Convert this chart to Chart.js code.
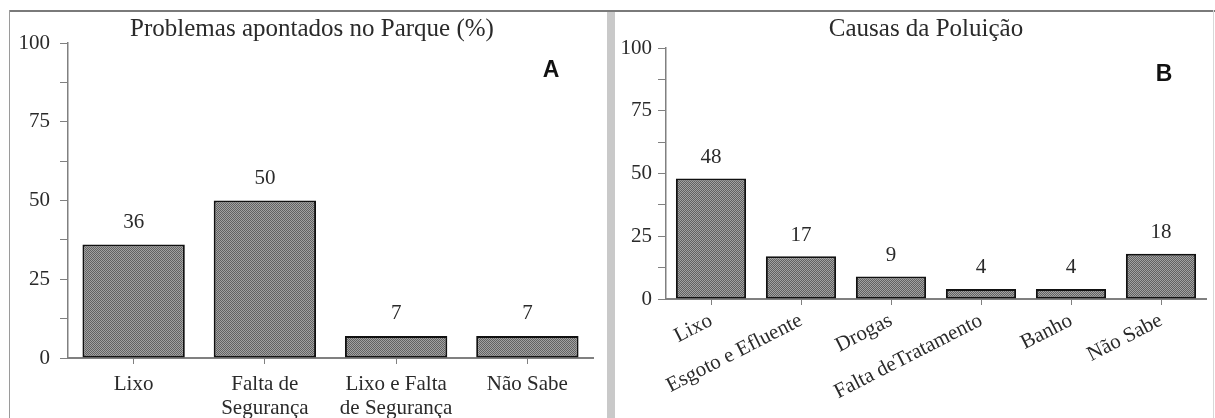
<!DOCTYPE html>
<html>
<head>
<meta charset="utf-8">
<script src="https://cdn.jsdelivr.net/npm/chart.js@4/dist/chart.umd.min.js"></script>
<style>
  html,body{margin:0;padding:0;background:#fff;}
  body{width:1215px;height:418px;position:relative;overflow:hidden;}
  .ln{position:absolute;}
  canvas{position:absolute;}
</style>
</head>
<body>
<div class="ln" style="left:9px;top:10px;width:1206px;height:2px;background:#7a7a7a"></div>
<div class="ln" style="left:9px;top:10px;width:1px;height:408px;background:#9a9a9a"></div>
<div class="ln" style="left:607px;top:12px;width:8px;height:406px;background:#c9c9c9"></div>
<div class="ln" style="left:1213px;top:10px;width:1px;height:408px;background:#d8d8d8"></div>
<canvas id="cA" style="left:10px;top:12px" width="597" height="406"></canvas>
<canvas id="cB" style="left:615px;top:12px" width="600" height="406"></canvas>
<script>
// ---- Data ----
const titleA = "Problemas apontados no Parque (%)";
const categoriesA = [["Lixo"], ["Falta de", "Segurança"], ["Lixo e Falta", "de Segurança"], ["Não Sabe"]];
const valuesA = [36, 50, 7, 7];

const titleB = "Causas da Poluição";
const categoriesB = ["Lixo", "Esgoto e Efluente", "Drogas", "Falta deTratamento", "Banho", "Não Sabe"];
const valuesB = [48, 17, 9, 4, 4, 18];

const yMin = 0, yMax = 100, yMajor = 25, yMinor = 12.5;

// ---- Styles ----
const SERIF = "'Liberation Serif', 'Times New Roman', serif";
const SANS = "'Liberation Sans', Arial, sans-serif";
const TXT = "#2a2a2a";
const AXIS = "#808080";

function makePattern() {
  const p = document.createElement('canvas');
  p.width = 2; p.height = 2;
  const g = p.getContext('2d');
  g.fillStyle = '#a2a2a2'; g.fillRect(0, 0, 2, 2);
  g.fillStyle = '#626262'; g.fillRect(0, 0, 1, 1); g.fillRect(1, 1, 1, 1);
  return g.createPattern(p, 'repeat');
}

const decorPlugin = {
  id: 'decor',
  afterDatasetsDraw(chart, args, opts) {
    const ctx = chart.ctx;
    ctx.save();
    // value labels
    ctx.font = '21px ' + SERIF;
    ctx.fillStyle = TXT;
    ctx.textAlign = 'center';
    ctx.textBaseline = 'middle';
    const meta = chart.getDatasetMeta(0);
    const data = chart.data.datasets[0].data;
    meta.data.forEach((bar, i) => {
      ctx.fillText(String(data[i]), bar.x, bar.y - opts.labelGap);
    });
    // title
    ctx.font = '25px ' + SERIF;
    ctx.fillText(opts.title, opts.titleX, opts.titleY);
    // panel letter
    ctx.font = 'bold 23px ' + SANS;
    ctx.fillStyle = '#111';
    ctx.fillText(opts.letter, opts.letterX, opts.letterY);
    ctx.restore();
  }
};

function buildChart(id, labels, values, cfg) {
  return new Chart(document.getElementById(id), {
    type: 'bar',
    data: {
      labels: labels,
      datasets: [{
        data: values,
        backgroundColor: makePattern(),
        borderColor: '#111',
        borderWidth: 2,
        borderSkipped: false,
        barPercentage: 0.78,
        categoryPercentage: 1.0
      }]
    },
    options: {
      responsive: false,
      animation: false,
      devicePixelRatio: 1,
      layout: { padding: { top: cfg.top, right: cfg.right, left: 0, bottom: 0 } },
      plugins: {
        legend: { display: false },
        title: { display: false },
        tooltip: { enabled: false },
        decor: cfg.decor
      },
      scales: {
        x: {
          type: 'category',
          offset: true,
          grid: { display: true, drawOnChartArea: false, drawTicks: true, offset: false, tickLength: 6, tickColor: AXIS, color: AXIS },
          border: { display: true, color: AXIS, width: 2 },
          ticks: {
            autoSkip: false,
            minRotation: cfg.rot, maxRotation: cfg.rot,
            padding: cfg.xPad,
            color: TXT,
            font: { family: SERIF, size: 21, lineHeight: 1.12 }
          },
          afterFit(s) { s.height = cfg.xH; }
        },
        y: {
          min: yMin, max: yMax,
          grid: { display: true, drawOnChartArea: false, drawTicks: true, tickLength: 8, tickColor: AXIS, color: AXIS },
          border: { display: true, color: AXIS, width: 1.5 },
          ticks: {
            stepSize: yMinor,
            padding: cfg.yPad,
            color: TXT,
            font: { family: SERIF, size: 21 },
            callback: (v) => (v % yMajor === 0 ? String(v) : '')
          },
          afterFit(s) { s.width = cfg.yW; }
        }
      }
    },
    plugins: [decorPlugin]
  });
}

buildChart('cA', categoriesA, valuesA, {
  top: 31, right: 14, xH: 60, yW: 58, rot: 0, xPad: 9, yPad: 10,
  decor: { title: titleA, titleX: 302, titleY: 17, letter: 'A', letterX: 541, letterY: 59, labelGap: 22 }
});

buildChart('cB', categoriesB, valuesB, {
  top: 36, right: 9, xH: 119, yW: 51, rot: 27, xPad: 4, yPad: 6,
  decor: { title: titleB, titleX: 311, titleY: 17, letter: 'B', letterX: 549, letterY: 63, labelGap: 21 }
});
</script>
</body>
</html>
